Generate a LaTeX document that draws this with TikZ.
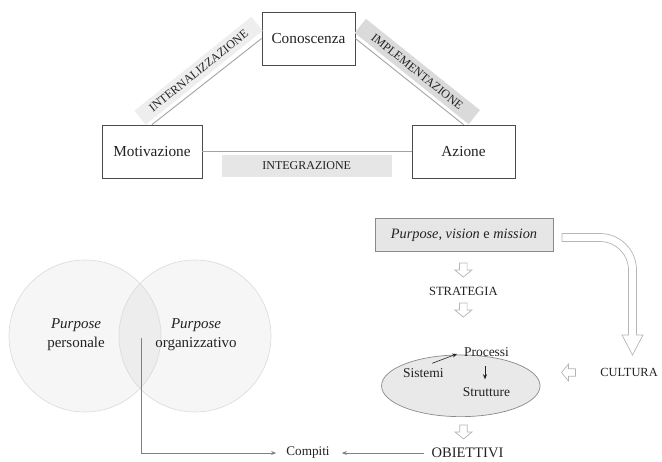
\documentclass[tikz,border=0pt]{standalone}
\usepackage{fontspec}
\setmainfont{Liberation Serif}
\usetikzlibrary{shapes.geometric,arrows.meta,calc}

\definecolor{ink}{HTML}{222222}
\definecolor{frame}{HTML}{4A4A4A}
\definecolor{linkgray}{HTML}{A3A3A3}
\definecolor{arrowgray}{HTML}{B5B5B5}
\definecolor{bandlight}{HTML}{EEEEEE}
\definecolor{banddark}{HTML}{DADADA}
\definecolor{bandmid}{HTML}{E6E6E6}
\definecolor{circfill}{HTML}{F6F6F6}
\definecolor{lensfill}{HTML}{EDEDED}
\definecolor{circline}{HTML}{DADADA}
\definecolor{ovalfill}{HTML}{E9E9E9}
\definecolor{ovalline}{HTML}{8A8A8A}

\begin{document}
\begin{tikzpicture}[x=1pt,y=-1pt,
  every node/.style={text=ink, inner sep=1pt},
  kbox/.style={draw=frame, line width=0.8pt, fill=white, minimum height=53,
    font=\fontsize{15.3}{18}\selectfont},
  band/.style={minimum height=18, inner sep=0pt, font=\fontsize{12}{14}\selectfont},
  tie/.style={draw=linkgray, line width=0.9pt},
  capsA/.style={font=\fontsize{12.6}{15}\selectfont},
  small/.style={font=\fontsize{13.5}{16}\selectfont},
  thinarrow/.style={-{Stealth[length=5pt,width=4pt]}},
  % small hollow block arrow, pointing down before rotation
  hollowarrow/.pic={
    \draw[draw=arrowgray, fill=white, line width=0.7pt, line join=miter]
      (-3.8,-7) -- (3.8,-7) -- (3.8,0) -- (8.5,0) -- (0,7) -- (-8.5,0) -- (-3.8,0) -- cycle;
  },
]
\useasboundingbox (0,0) rectangle (662,461);

% ---------- knowledge triangle ----------
\node[kbox, minimum width=93]  (con) at (308.5,38.5) {Conoscenza};
\node[kbox, minimum width=100] (mot) at (152,151.5)  {Motivazione};
\node[kbox, minimum width=103] (azi) at (463.5,151.5) {Azione};

\draw[tie] (mot.north) -- (con.west);
\draw[tie] (con.east) -- (azi.north);
\draw[tie] (mot.east) -- (azi.west);

\node[band, fill=bandlight, minimum width=150, rotate=38.8] (lint) at (198.6,70.7) {INTERNALIZZAZIONE};
\node[band, fill=banddark,  minimum width=146, rotate=-38.7] (limp) at (417.3,71.5) {IMPLEMENTAZIONE};
\node[band, fill=bandmid, minimum width=170, minimum height=21.5] (lintg) at (306.7,166) {INTEGRAZIONE};

% ---------- purpose circles ----------
\fill[circfill] (85,336) circle[radius=76];
\fill[circfill] (195,336) circle[radius=76];
\begin{scope}
  \clip (85,336) circle[radius=76];
  \fill[lensfill] (195,336) circle[radius=76];
\end{scope}
\node[circle, draw=circline, line width=0.6pt, minimum size=152, inner sep=0pt] (cpers) at (85,336) {};
\node[circle, draw=circline, line width=0.6pt, minimum size=152, inner sep=0pt] (corg) at (195,336) {};
\node[align=center, font=\fontsize{15}{19}\selectfont] (tpers) at (76,335) {\textit{Purpose}\\personale};
\node[align=center, font=\fontsize{15}{19}\selectfont] (torg) at (196,335) {\textit{Purpose}\\organizzativo};
\coordinate (lens) at (141.7,338);

% ---------- purpose, strategy, organisation ----------
\node[draw=ovalline, fill=bandmid, line width=0.7pt, minimum width=178, minimum height=33.4,
  font=\fontsize{14.3}{17}\selectfont] (pvm) at (464,235) {\textit{Purpose, vision} e \textit{mission}};
\pic at (463.3,270) {hollowarrow};
\node[capsA] (strat) at (463.3,291) {STRATEGIA};
\pic at (463.3,310) {hollowarrow};

\node[ellipse, draw=ovalline, fill=ovalfill, line width=0.7pt, minimum width=158.5, minimum height=61.7,
  inner sep=0pt] (org) at (460.8,385.8) {};
\node[small] (pro) at (486.5,351.7) {Processi};
\node[small] (sis) at (423.3,373) {Sistemi};
\node[small] (stru) at (486.5,392) {Strutture};
\draw[thinarrow, line width=0.6pt, draw=ink, shorten >=6pt] ([xshift=9pt,yshift=4pt]sis.north) -- (pro.west);
\draw[thinarrow, line width=0.6pt, draw=ink, shorten <=9pt, shorten >=7pt] ([xshift=-1.5pt]pro.south) -- ([xshift=-1.5pt]stru.north);

\node[font=\fontsize{12.4}{15}\selectfont] (cul) at (629,372.5) {CULTURA};
\pic[rotate=-90] at (568.5,372.5) {hollowarrow};

\pic at (463.5,432) {hollowarrow};
\node[font=\fontsize{14.5}{17}\selectfont] (obi) at (467.5,453) {OBIETTIVI};
\node[font=\fontsize{13.2}{16}\selectfont] (comp) at (308,453) {Compiti};

\draw[tie, draw=gray, thinarrow, shorten <=6pt, shorten >=11pt] (obi.west) -- (comp.east);
\draw[tie, draw=gray, thinarrow, shorten >=9pt] (lens) |- (comp.west);

% curved arrow from the purpose box down to the culture
\draw[draw=arrowgray, fill=white, line width=0.7pt, line join=miter]
  (562,233.5) -- (600,233.5)
  .. controls (620.2,233.5) and (636.5,249.8) .. (636.5,270)
  -- (636.5,335) -- (643,335) -- (632.5,355) -- (622,335) -- (628.5,335) -- (628.5,270)
  .. controls (628.5,254.3) and (615.7,241.5) .. (600,241.5)
  -- (562,241.5) -- cycle;
\end{tikzpicture}
\end{document}
